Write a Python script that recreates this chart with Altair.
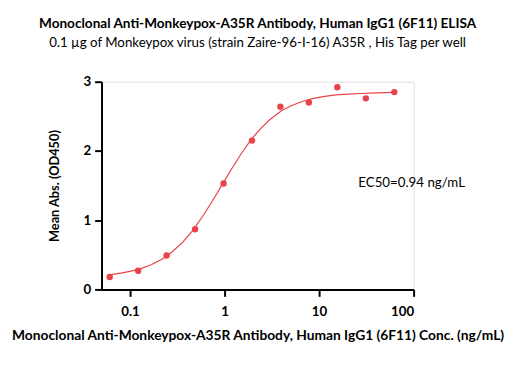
import altair as alt
import pandas as pd

# measured points
conc = [0.061, 0.122, 0.244, 0.488, 0.977, 1.95, 3.9, 7.8, 15.6, 31.25, 62.5]
od = [0.18, 0.27, 0.49, 0.87, 1.53, 2.15, 2.64, 2.70, 2.92, 2.76, 2.85]

# fitted curve
curve_x = [0.061, 0.08, 0.1, 0.13, 0.17, 0.22, 0.28, 0.36, 0.46, 0.6, 0.75, 0.94,
           1.2, 1.5, 1.9, 2.4, 3.0, 4.0, 5.0, 6.5, 8.5, 11, 15, 20, 28, 40, 62.5]
curve_y = [0.21, 0.235, 0.26, 0.30, 0.36, 0.44, 0.545, 0.68, 0.85, 1.075, 1.285, 1.51,
           1.75, 1.96, 2.16, 2.32, 2.45, 2.58, 2.65, 2.71, 2.755, 2.785, 2.81, 2.82, 2.83, 2.84, 2.845]

ann_x = [26]
ann_y = [1.54]
ann_text = ["EC50=0.94 ng/mL"]

x_ticks = [0.1, 1, 10, 100]
y_ticks = [0, 1, 2, 3]

RED = "#e8424a"
FONT = "Lato"

pts = pd.DataFrame({"x": conc, "y": od})
crv = pd.DataFrame({"x": curve_x, "y": curve_y})
ann = pd.DataFrame({"x": ann_x, "y": ann_y, "t": ann_text})

xscale = alt.Scale(type="log", domain=[0.05, 100], nice=False)
yscale = alt.Scale(domain=[0, 3], nice=False)

xaxis = alt.Axis(values=x_ticks, labelExpr="datum.value == 0.1 ? '0.1' : format(datum.value, 'd')",
                 title="Monoclonal Anti-Monkeypox-A35R Antibody, Human IgG1 (6F11) Conc. (ng/mL)",
                 grid=False, domainColor="black", domainWidth=2, tickColor="black", tickWidth=2,
                 tickSize=7, labelFont=FONT, labelFontWeight="bold", labelFontSize=13.5,
                 labelColor="black", labelPadding=8, titleFont=FONT, titleFontWeight="bold",
                 titleFontSize=14, titleColor="black", titlePadding=11)
yaxis = alt.Axis(values=y_ticks, format="d", title="Mean Abs. (OD450)", grid=False,
                 domainColor="black", domainWidth=2, tickColor="black", tickWidth=2, tickSize=7,
                 labelFont=FONT, labelFontWeight="bold", labelFontSize=13.5, labelColor="black",
                 labelPadding=4, titleFont=FONT, titleFontWeight="bold", titleFontSize=13,
                 titleColor="black", titlePadding=22)

line = alt.Chart(crv).mark_line(color=RED, strokeWidth=1.2).encode(
    x=alt.X("x:Q", scale=xscale, axis=xaxis),
    y=alt.Y("y:Q", scale=yscale, axis=yaxis),
)
dots = alt.Chart(pts).mark_circle(color=RED, size=42, opacity=1).encode(
    x=alt.X("x:Q", scale=xscale),
    y=alt.Y("y:Q", scale=yscale),
)
text = alt.Chart(ann).mark_text(align="left", baseline="middle", font=FONT, fontSize=13.5,
                                color="black").encode(
    x=alt.X("x:Q", scale=xscale),
    y=alt.Y("y:Q", scale=yscale),
    text="t:N",
)

chart = alt.layer(line, dots, text).properties(
    width=317, height=211,
    title=alt.TitleParams(
        text="Monoclonal Anti-Monkeypox-A35R Antibody, Human IgG1 (6F11) ELISA",
        subtitle="0.1 \u00b5g of Monkeypox virus (strain Zaire-96-I-16) A35R , His Tag per well",
        font=FONT, fontSize=13.8, fontWeight="bold", color="black",
        subtitleFont=FONT, subtitleFontSize=13.5, subtitleColor="black",
        subtitlePadding=5, anchor="middle", offset=26,
    ),
    autosize=alt.AutoSizeParams(type="none"),
    padding={"left": 95, "top": 72, "right": 104, "bottom": 82},
).configure_view(stroke=None).configure(background="white")

chart.save("out.html", embed_options={"renderer": "svg", "actions": False})
